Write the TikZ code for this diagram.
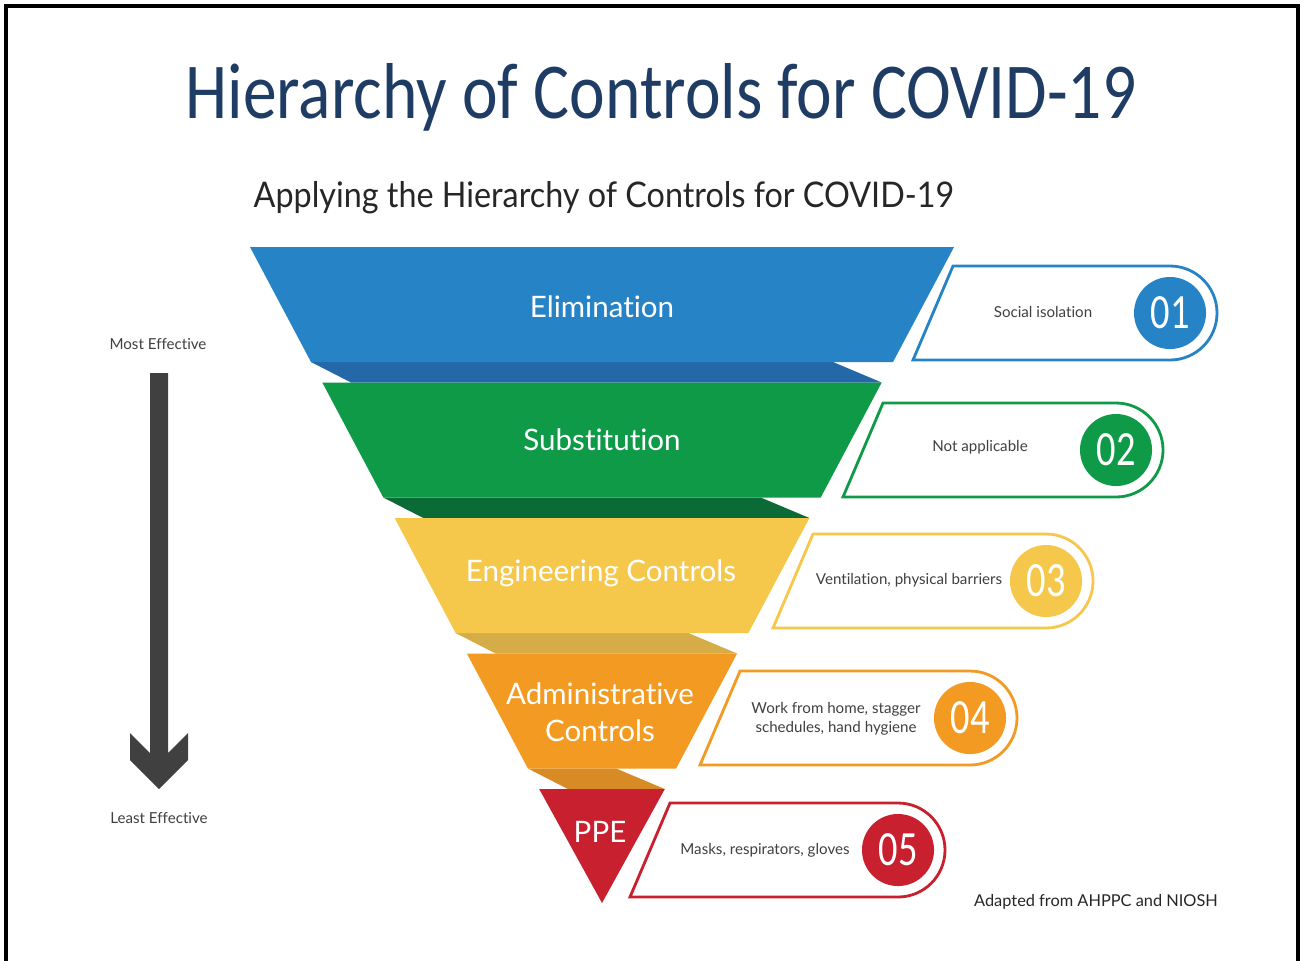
\documentclass[tikz,border=0pt]{standalone}
\usepackage{fontspec}
\setmainfont{Lato}[Ligatures=NoCommon]
\newfontfamily\titlefont{Carlito}
\usetikzlibrary{calc}
\definecolor{hcNavy}{HTML}{1F3C64}
\definecolor{hcBlue}{HTML}{2683C6}
\definecolor{hcBlueDk}{HTML}{2468A8}
\definecolor{hcGreen}{HTML}{0F9A48}
\definecolor{hcGreenDk}{HTML}{0B6B37}
\definecolor{hcYellow}{HTML}{F5C84C}
\definecolor{hcYellowDk}{HTML}{D6AC48}
\definecolor{hcOrange}{HTML}{F39A22}
\definecolor{hcOrangeDk}{HTML}{D88A24}
\definecolor{hcRed}{HTML}{C8202F}
\definecolor{hcGrey}{HTML}{404040}
\tikzset{
  layer/.style={text=white, font=\fontsize{8.4}{10.5}\selectfont, align=center, inner sep=0pt},
  note/.style={text=hcGrey, font=\fontsize{4.3}{5.4}\selectfont, align=center, inner sep=0pt},
  numdot/.style={circle, minimum size=0.72cm, inner sep=0pt, text=white, font=\titlefont\fontsize{14}{14}\selectfont},
}

\begin{document}
\begin{tikzpicture}[x=0.01cm, y=-0.01cm]
			%%%%% FRAME %%%%%
			\useasboundingbox (0, 0) rectangle (1304, 960);
			\fill[white] (0, 0) rectangle (1304, 960);
			\draw[line width=1.1pt] (6, 6) rectangle (1298, 970);
			
			%%%%% TITLES %%%%%
			\node[anchor=base west, inner sep=0pt, text=hcNavy] (title) at (185, 118)
				{\resizebox{9.5cm}{0.55cm}{\titlefont Hierarchy of Controls for COVID-19}};
			\node[anchor=base west, inner sep=0pt, text=black!85] (subtitle) at (253, 207)
				{\resizebox{7cm}{0.26cm}{Applying the Hierarchy of Controls for COVID-19}};
			
			%%%%% FUNNEL %%%%%
			\foreach \i/\col/\dk in {0/hcBlue/hcBlueDk, 1/hcGreen/hcGreenDk, 2/hcYellow/hcYellowDk, 3/hcOrange/hcOrangeDk} {
				\pgfmathsetmacro\yt{247+135.5*\i}
				\pgfmathsetmacro\yb{\yt+115}
				\pgfmathsetmacro\yn{\yt+135.5}
				\pgfmathsetmacro\ht{352-72.3*\i}
				\pgfmathsetmacro\hb{\ht-61}
				\pgfmathsetmacro\hn{\ht-72.3}
				\fill[\dk] (602-\hb, \yb) -- (602+\hb-60, \yb) -- (602+\hn, \yn) -- (602-\hb+40, \yn) -- cycle;
				\fill[\col] (602-\ht, \yt) -- (602+\ht, \yt) -- (602+\hb, \yb) -- (602-\hb, \yb) -- cycle;
			}
			\fill[hcRed] (539.2, 789) -- (664.8, 789) -- (602, 903) -- cycle;
			
			\node[layer] (elim) at (602, 307) {Elimination};
			\node[layer] (subst) at (602, 440) {Substitution};
			\node[layer] (engin) at (601, 573) {Engineering Controls};
			\node[layer] (admin) at (600, 712) {Administrative\\Controls};
			\node[layer] (ppe) at (600, 832) {PPE};
			
			%%%%% EXAMPLES %%%%%
			\foreach \n/\xl/\xc/\yc/\col in {1/913/1170/313/hcBlue, 2/843/1116/450/hcGreen, 3/773/1046/581/hcYellow, 4/700/970/718/hcOrange, 5/630/898/850/hcRed} {
				\draw[\col, line width=0.8pt, fill=white] (\xl, \yc+47) -- (\xl+40, \yc-47) -- (\xc, \yc-47) arc (-90:90:47) -- cycle;
				\node[numdot, fill=\col] (num\n) at (\xc, \yc) {\scalebox{0.78}[1]{0\n}};
			}
			
			\node[note] (ex1) at (1043, 312) {Social isolation};
			\node[note] (ex2) at (980, 447) {Not applicable};
			\node[note] (ex3) at (909, 580) {Ventilation, physical barriers};
			\node[note] (ex4) at (836, 719) {Work from home, stagger\\schedules, hand hygiene};
			\node[note] (ex5) at (765, 850) {Masks, respirators, gloves};
			
			%%%%% EFFECTIVENESS ARROW %%%%%
			\node[note] (most) at (158, 344) {Most Effective};
			\node[note] (least) at (159, 818) {Least Effective};
			\fill[hcGrey] (150, 373) -- (150, 753) -- (130, 733) -- (130, 760) -- (159, 789)
				-- (188, 760) -- (188, 733) -- (168, 753) -- (168, 373) -- cycle;
			
			\node[note, text=black!85, font=\fontsize{4.65}{5.6}\selectfont] (source) at (1096, 902) {Adapted from AHPPC and NIOSH};
\end{tikzpicture}
\end{document}
